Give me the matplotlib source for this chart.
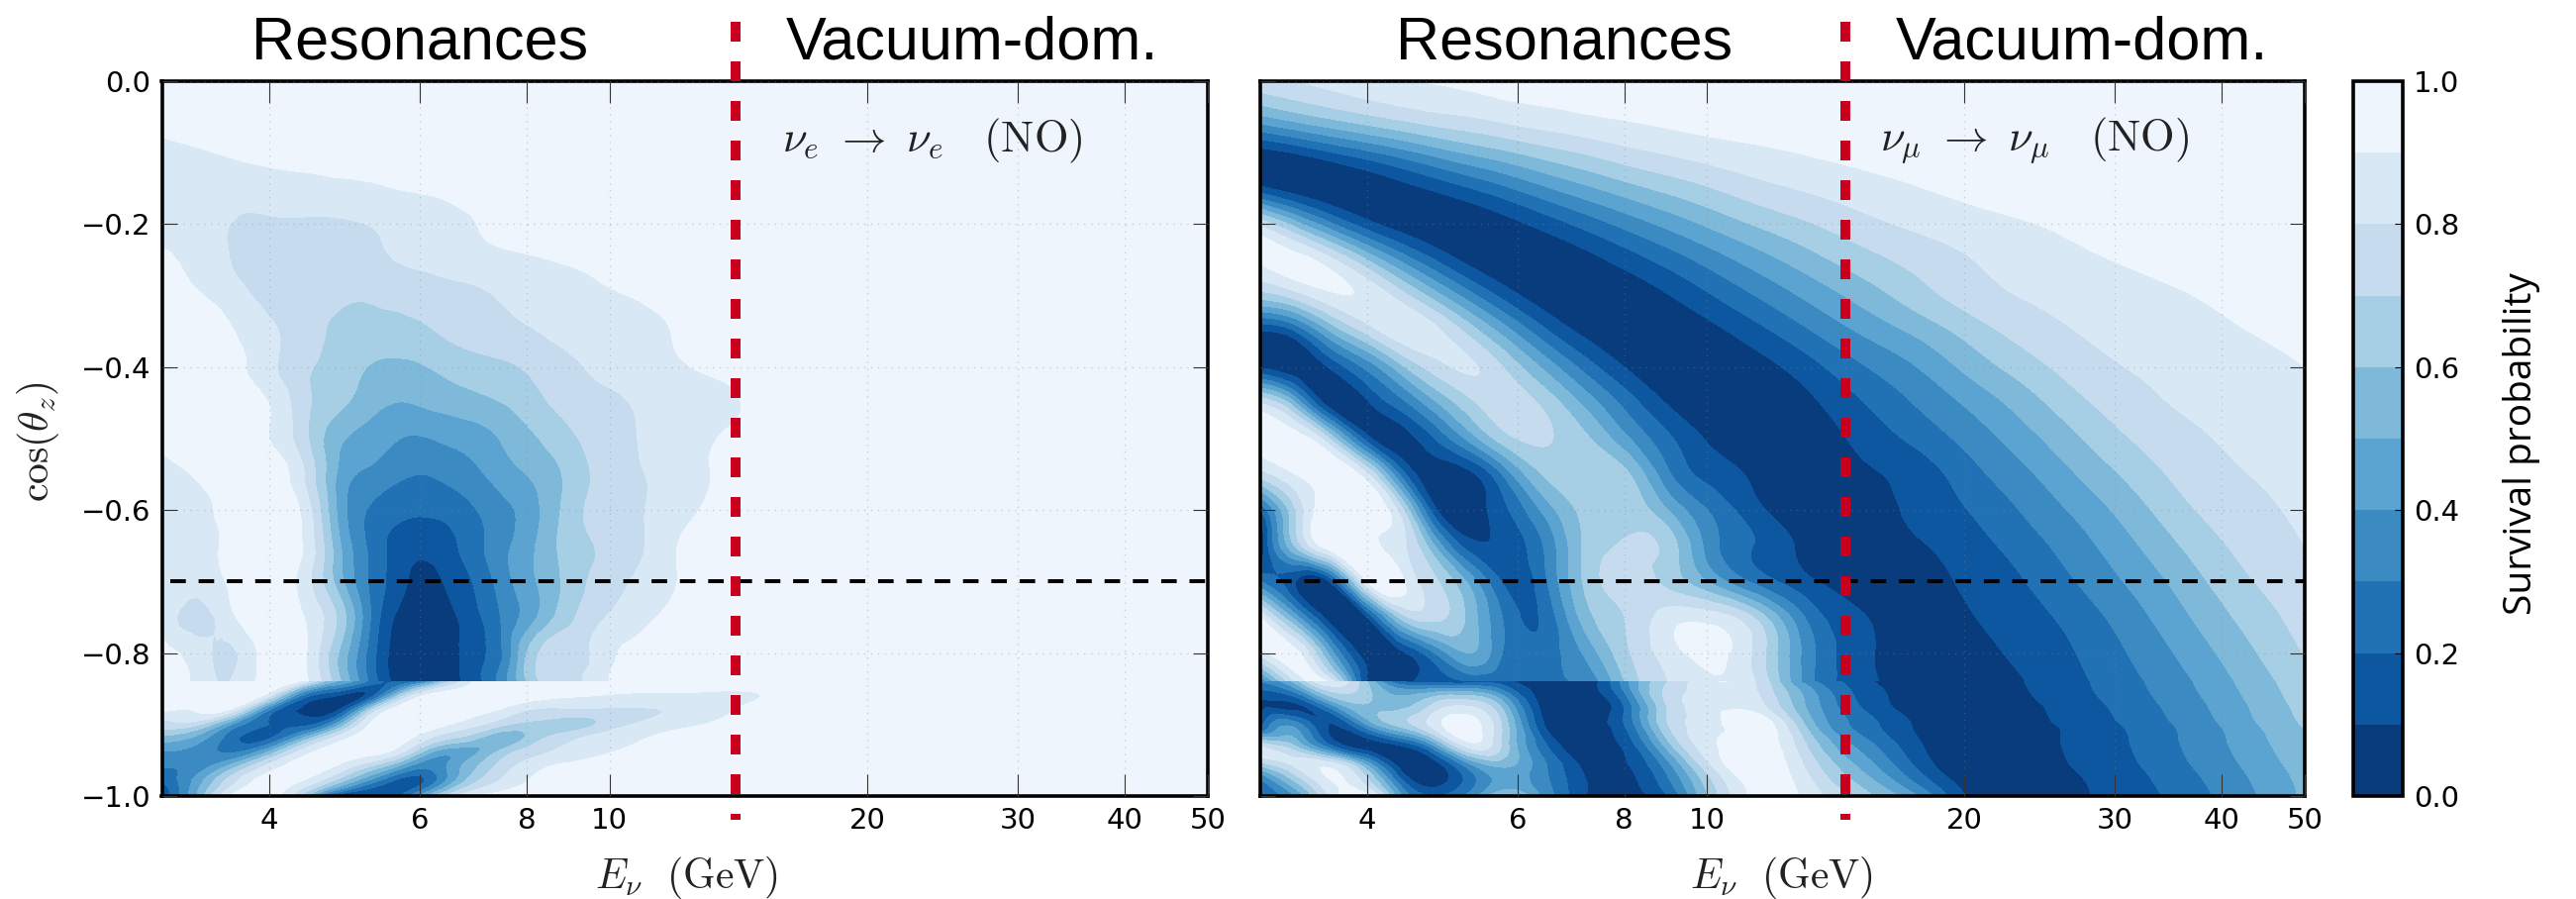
import numpy as np
import matplotlib
matplotlib.use("Agg")
import matplotlib.pyplot as plt
from matplotlib.tri import Triangulation, UniformTriRefiner
from matplotlib.transforms import blended_transform_factory

plt.rcParams['mathtext.fontset'] = 'cm'
W, H = 2602, 908

levels = np.linspace(0, 1, 11)
xticks = [4, 6, 8, 10, 20, 30, 40, 50]
yticks = [0.0, -0.2, -0.4, -0.6, -0.8, -1.0]
cbar_ticks = [0.0, 0.2, 0.4, 0.6, 0.8, 1.0]

# ---------- nu_e -> nu_e ----------
e_energy = [3, 3.3, 3.6, 4, 4.4, 4.8, 5.2, 5.6, 6, 6.5, 7, 7.5, 8, 9, 10, 11, 12, 14, 16, 20, 50]
e_cos_upper = [0, -.05, -.1, -.15, -.2, -.25, -.3, -.35, -.4, -.45, -.5, -.55, -.6, -.65, -.7, -.75, -.8, -.84]
e_upper = [
 [.94,.95,.95,.96,.96,.96,.96,.96,.96,.96,.96,.96,.96,.96,.96,.96,.96,.96,.96,.96,.96],
 [.93,.94,.95,.96,.96,.96,.96,.96,.96,.96,.96,.96,.96,.96,.96,.96,.96,.96,.96,.96,.96],
 [.87,.89,.91,.93,.94,.95,.96,.96,.96,.96,.96,.96,.96,.96,.96,.96,.96,.96,.96,.96,.97],
 [.84,.84,.84,.85,.86,.87,.88,.90,.91,.92,.93,.93,.94,.95,.96,.97,.97,.97,.97,.97,.97],
 [.88,.86,.80,.79,.79,.79,.80,.82,.85,.88,.90,.92,.93,.94,.95,.96,.97,.97,.97,.97,.97],
 [.91,.87,.80,.77,.76,.76,.77,.80,.82,.85,.87,.88,.89,.91,.93,.95,.96,.97,.97,.97,.97],
 [.95,.91,.85,.77,.74,.72,.71,.73,.74,.76,.78,.81,.83,.86,.89,.91,.93,.96,.97,.98,.98],
 [.95,.95,.91,.82,.75,.68,.66,.66,.68,.72,.75,.77,.79,.83,.85,.88,.905,.95,.97,.98,.98],
 [.96,.95,.93,.83,.72,.66,.60,.58,.59,.63,.66,.68,.71,.78,.83,.86,.89,.93,.97,.98,.98],
 [.96,.95,.93,.90,.73,.63,.55,.50,.51,.54,.57,.60,.65,.74,.78,.82,.85,.89,.97,.98,.98],
 [.92,.95,.95,.90,.73,.53,.46,.41,.39,.42,.45,.51,.57,.68,.76,.81,.85,.92,.97,.98,.98],
 [.87,.91,.95,.95,.80,.50,.38,.33,.30,.33,.38,.45,.50,.63,.75,.80,.85,.93,.97,.98,.98],
 [.86,.87,.93,.96,.87,.50,.30,.24,.22,.24,.30,.37,.44,.65,.75,.80,.86,.95,.97,.98,.98],
 [.90,.86,.92,.96,.89,.55,.30,.17,.12,.17,.27,.37,.46,.65,.72,.80,.90,.96,.97,.98,.98],
 [.88,.85,.91,.96,.85,.57,.31,.16,.07,.12,.22,.35,.46,.64,.76,.83,.90,.96,.97,.98,.98],
 [.88,.76,.87,.96,.90,.70,.35,.10,.03,.07,.18,.31,.44,.68,.81,.88,.93,.97,.97,.98,.98],
 [.93,.85,.78,.96,.92,.62,.30,.07,.03,.06,.17,.30,.60,.75,.88,.93,.95,.97,.97,.98,.98],
 [.93,.87,.80,.96,.93,.65,.32,.08,.03,.06,.17,.35,.60,.77,.90,.95,.96,.97,.97,.98,.98],
]
e_cos_lower = [-.84, -.86, -.88, -.90, -.92, -.94, -.96, -.98, -1.0]
e_lower = [
 [.96,.96,.96,.95,.85,.50,.30,.20,.30,.70,.93,.97,.97,.97,.97,.97,.97,.97,.97,.97,.97],
 [.96,.96,.93,.82,.25,.10,.12,.55,.88,.96,.97,.97,.95,.91,.89,.88,.88,.88,.93,.97,.97],
 [.92,.91,.88,.30,.08,.09,.60,.93,.97,.95,.93,.88,.80,.78,.78,.79,.82,.90,.97,.97,.97],
 [.75,.72,.42,.20,.18,.45,.88,.96,.97,.90,.82,.72,.67,.65,.75,.82,.87,.93,.97,.97,.97],
 [.55,.45,.25,.20,.55,.85,.95,.95,.85,.70,.60,.52,.62,.78,.85,.90,.95,.97,.97,.97,.97],
 [.38,.35,.30,.55,.87,.95,.93,.85,.60,.42,.50,.65,.75,.85,.90,.95,.97,.97,.97,.97,.97],
 [.30,.35,.55,.85,.95,.88,.70,.50,.32,.42,.60,.75,.85,.92,.95,.97,.97,.97,.97,.97,.97],
 [.20,.45,.75,.95,.88,.65,.38,.18,.17,.45,.70,.82,.90,.96,.97,.97,.97,.97,.97,.97,.97],
 [.10,.50,.92,.97,.65,.10,.08,.15,.42,.75,.90,.95,.96,.97,.95,.91,.89,.93,.97,.97,.97],
]

# ---------- nu_mu -> nu_mu ----------
mu_energy = [3, 3.3, 3.6, 4, 4.4, 4.8, 5.3, 5.8, 6.5, 7.2, 8, 9, 10, 11.5, 13, 15, 17.5, 20, 23, 27, 32, 37, 43, 50]
mu_cos_upper = [0, -.05, -.1, -.15, -.2, -.25, -.3, -.35, -.4, -.45, -.5, -.55, -.6, -.65, -.7, -.75, -.8, -.84]
mu_upper = [
 [.77,.80,.83,.865,.89,.905,.92,.93,.945,.956,.965,.972,.978,.983,.987,.99,.99,.995,.995,1,1,1,1,1],
 [.48,.555,.615,.68,.73,.77,.80,.835,.865,.89,.91,.93,.945,.955,.965,.975,.98,.985,.99,.99,.995,.995,1,1],
 [.05,.11,.185,.275,.36,.44,.52,.58,.655,.71,.765,.81,.845,.88,.905,.93,.945,.96,.97,.98,.985,.99,.99,.995],
 [.13,.04,.00,.012,.06,.12,.20,.28,.39,.475,.555,.63,.69,.765,.81,.855,.895,.92,.94,.955,.965,.976,.98,.985],
 [.78,.55,.34,.14,.04,.00,.014,.06,.145,.235,.33,.43,.515,.615,.685,.76,.82,.86,.89,.92,.945,.955,.97,.975],
 [.92,.94,.84,.60,.37,.20,.06,.01,.01,.06,.14,.24,.335,.455,.55,.65,.73,.79,.84,.88,.915,.935,.95,.965],
 [.65,.75,.87,.88,.74,.55,.33,.16,.03,.00,.024,.095,.185,.31,.415,.53,.65,.74,.80,.835,.87,.90,.925,.95],
 [.09,.20,.48,.73,.87,.83,.65,.45,.21,.07,.01,.01,.06,.17,.28,.405,.52,.63,.73,.80,.84,.87,.90,.925],
 [.09,.02,.10,.33,.58,.75,.81,.69,.46,.26,.10,.01,.00,.06,.15,.28,.395,.52,.635,.745,.81,.84,.87,.90],
 [.80,.50,.05,.08,.27,.48,.68,.76,.66,.47,.27,.09,.02,.01,.07,.185,.305,.41,.53,.67,.77,.82,.85,.88],
 [.96,.95,.72,.15,.04,.20,.45,.66,.71,.62,.43,.22,.09,.01,.03,.12,.225,.325,.44,.585,.715,.78,.83,.86],
 [.75,.90,.97,.82,.25,.03,.08,.33,.62,.67,.63,.32,.17,.07,.01,.07,.14,.25,.36,.50,.645,.745,.80,.84],
 [.20,.70,.97,.97,.72,.13,.03,.18,.45,.63,.67,.50,.30,.12,.03,.03,.125,.195,.295,.42,.57,.695,.77,.82],
 [.03,.62,.96,.97,.82,.50,.14,.13,.33,.62,.71,.66,.37,.19,.07,.01,.08,.15,.235,.355,.50,.63,.735,.80],
 [.30,.10,.08,.90,.92,.72,.45,.18,.30,.62,.74,.67,.50,.26,.13,.03,.04,.115,.185,.30,.435,.565,.69,.77],
 [.90,.45,.05,.10,.65,.73,.55,.28,.24,.55,.70,.85,.86,.66,.30,.12,.02,.08,.15,.24,.375,.505,.635,.74],
 [.85,.93,.50,.03,.08,.30,.50,.28,.25,.42,.67,.85,.93,.75,.37,.14,.01,.04,.115,.20,.325,.445,.58,.705],
 [.30,.80,.90,.08,.05,.15,.20,.22,.25,.33,.60,.80,.88,.78,.37,.15,.01,.02,.09,.175,.29,.40,.535,.665],
]
mu_cos_lower = [-.84, -.87, -.90, -.93, -.96, -1.0]
mu_lower = [
 [.30,.55,.90,.60,.20,.15,.15,.14,.03,.04,.35,.70,.88,.78,.37,.15,.01,.02,.09,.175,.29,.40,.535,.665],
 [.08,.10,.40,.60,.55,.70,.75,.50,.03,.02,.22,.72,.85,.82,.50,.20,.05,.015,.07,.15,.265,.37,.505,.64],
 [.15,.35,.10,.40,.65,.85,.95,.65,.07,.02,.20,.70,.85,.97,.60,.27,.09,.01,.05,.125,.235,.34,.475,.61],
 [.80,.60,.25,.05,.10,.40,.85,.65,.20,.02,.12,.55,.86,.97,.72,.38,.13,.01,.03,.12,.215,.325,.445,.58],
 [.55,.80,.90,.55,.05,.03,.35,.50,.30,.08,.08,.35,.75,.98,.80,.50,.20,.02,.02,.105,.195,.30,.415,.55],
 [.20,.40,.80,.95,.40,.20,.35,.60,.35,.10,.05,.20,.60,.95,.88,.66,.42,.10,.01,.08,.165,.26,.38,.52],
]


def smooth_fill(ax, energy, cos, table, diag=None, subdiv=3):
    uu, cc = np.meshgrid(np.log10(energy), cos)
    nr, nc = uu.shape
    if diag is None:
        tri = Triangulation(uu.ravel(), cc.ravel())
    else:
        idx = np.arange(nr * nc).reshape(nr, nc)
        a, b = idx[:-1, :-1].ravel(), idx[:-1, 1:].ravel()
        d, e = idx[1:, :-1].ravel(), idx[1:, 1:].ravel()
        if diag == 'down':
            tris = np.r_[np.c_[a, e, b], np.c_[a, d, e]]
        else:
            tris = np.r_[np.c_[a, d, b], np.c_[b, d, e]]
        tri = Triangulation(uu.ravel(), cc.ravel(), tris)
    ref = UniformTriRefiner(tri)
    fine, zf = ref.refine_field(np.array(table, float).ravel(), subdiv=subdiv)
    zf = np.clip(zf, 0.001, 0.999)
    return ax.tricontourf(10 ** fine.x, fine.y, fine.triangles, zf, levels=levels, cmap='Blues_r')


def frame(ax, labels):
    ax.set_xscale('log')
    ax.set_xlim(3, 50)
    ax.set_ylim(-1, 0)
    ax.set_xticks(xticks)
    ax.set_xticklabels([str(t) for t in xticks])
    ax.minorticks_off()
    ax.set_yticks(yticks)
    if labels:
        ax.set_yticklabels(['0.0', '\u22120.2', '\u22120.4', '\u22120.6', '\u22120.8', '\u22121.0'])
    else:
        ax.set_yticklabels([])
    ax.tick_params(axis='x', which='major', direction='in', top=True, length=16, width=0.8,
                   color='#333333', labelsize=21, pad=8)
    ax.tick_params(axis='y', which='major', direction='in', right=True, length=11, width=0.8,
                   color='#333333', labelsize=21, pad=8)
    ax.grid(True, color='#888888', lw=1.0, alpha=0.35, dashes=(1, 4))
    ax.set_axisbelow(False)
    for s in ax.spines.values():
        s.set_linewidth(2.6)


def overlay(ax, e_red, e_start):
    ax.plot([e_start, 50], [-0.7, -0.7], color='k', lw=2.9, dashes=(3.9, 3.2), zorder=5)
    tr = blended_transform_factory(ax.transData, fig.transFigure)
    ax.plot([e_red, e_red], [1 - 21.7 / H, 1 - 828 / H], transform=tr, color='#c8001e',
            lw=7.2, dashes=(2, 2), dash_capstyle='butt', clip_on=False, zorder=6)


fig = plt.figure(figsize=(W / 100, H / 100), dpi=100)
ax1 = fig.add_axes([163.5 / W, 1 - 804 / H, 1056.5 / W, 722 / H])
ax2 = fig.add_axes([1273 / W, 1 - 804 / H, 1055 / W, 722 / H])
cax = fig.add_axes([2377 / W, 1 - 804 / H, 50 / W, 722 / H])

smooth_fill(ax1, e_energy, e_cos_upper, e_upper, subdiv=2)
smooth_fill(ax1, e_energy, e_cos_lower, e_lower, diag='up')
smooth_fill(ax2, mu_energy, mu_cos_upper, mu_upper, diag='down')
cs = smooth_fill(ax2, mu_energy, mu_cos_lower, mu_lower, diag='down')

frame(ax1, True)
frame(ax2, False)
overlay(ax1, 14.05, 3.07)
overlay(ax2, 14.5, 3.13)

cb = fig.colorbar(cs, cax=cax, ticks=cbar_ticks)
cb.ax.tick_params(labelsize=21, direction='in', length=6, width=0.8, pad=8, right=True)
cb.outline.set_linewidth(2.6)
cb.ax.set_yticklabels(['0.0', '0.2', '0.4', '0.6', '0.8', '1.0'])

tfont = dict(family='Liberation Sans', fontsize=44, color='k', va='baseline', ha='center')
for x, s in [(424, 'Resonances'), (982, 'Vacuum-dom.'), (1580, 'Resonances'), (2103, 'Vacuum-dom.')]:
    fig.text(x / W, 1 - 60 / H, s, **tfont)

fig.text(38 / W, 1 - 446 / H, r'$\cos(\theta_z)$', rotation=90, fontsize=30, ha='center', va='center', color='#222222')
fig.text(693 / W, 1 - 886 / H, r'$E_{\nu}\ \ (\mathrm{GeV})$', fontsize=30, ha='center', va='center', color='#222222')
fig.text(1799 / W, 1 - 886 / H, r'$E_{\nu}\ \ (\mathrm{GeV})$', fontsize=30, ha='center', va='center', color='#222222')
fig.text(942 / W, 1 - 142 / H, r'$\nu_e\ \rightarrow\ \nu_e\quad(\mathrm{NO})$', fontsize=32, ha='center', va='center', color='#222222')
fig.text(2055 / W, 1 - 142 / H, r'$\nu_\mu\ \rightarrow\ \nu_\mu\quad(\mathrm{NO})$', fontsize=32, ha='center', va='center', color='#222222')
fig.text(2547 / W, 1 - 448 / H, 'Survival probability', family='Open Sans', fontsize=28, rotation=90,
         ha='center', va='center', color='k')

fig.savefig('out.png', dpi=100)
